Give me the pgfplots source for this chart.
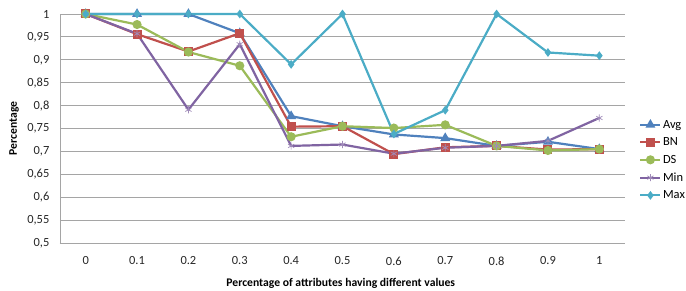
\documentclass[border=0pt]{standalone}
\usepackage{fontspec}
\setmainfont{Carlito}
\usepackage{pgfplots}
\pgfplotsset{compat=1.18}
\definecolor{cAvg}{HTML}{4F81BD}
\definecolor{cBN}{HTML}{C0504D}
\definecolor{cDS}{HTML}{9BBB59}
\definecolor{cMin}{HTML}{8064A2}
\definecolor{cMax}{HTML}{4BACC6}
\definecolor{gridc}{RGB}{165,165,165}
\begin{document}
\begin{tikzpicture}
\begin{axis}[
  name=ax,
  scale only axis,
  width=565bp, height=229bp,
  xmin=-0.5, xmax=10.5,
  ymin=0.5, ymax=1,
  xtick={0,1,2,3,4,5,6,7,8,9,10},
  xticklabels={0,0.1,0.2,0.3,0.4,0.5,0.6,0.7,0.8,0.9,1},
  ytick={0.5,0.55,0.6,0.65,0.7,0.75,0.8,0.85,0.9,0.95,1},
  /pgf/number format/assume math mode=true,
  /pgf/number format/use comma,
  /pgf/number format/precision=2,
  ymajorgrids,
  grid style={gridc, line width=0.8bp},
  axis x line=bottom, axis y line=left,
  axis line style={gridc, line width=0.8bp, -},
  tick style={draw=none},
  tick label style={font=\fontsize{12.5}{14}\selectfont, text=black!85},
  xticklabel style={yshift=-8bp},
  yticklabel style={xshift=-5bp},
  xlabel={\textbf{Percentage of attributes having different values}},
  ylabel={\textbf{Percentage}},
  label style={font=\fontsize{11.7}{13}\selectfont},
  xlabel style={at={(axis description cs:0.497,-0.175)}, anchor=center},
  ylabel style={at={(axis description cs:-0.0814,0.5)}, anchor=center, rotate=0},
  legend style={at={(rel axis cs:1.025,0.362)}, anchor=west, draw=none, fill=none,
    font=\fontsize{12.5}{14}\selectfont, row sep=4bp, inner sep=0pt,
    nodes={inner xsep=1.5bp}},
  legend cell align=left,
  clip=false,
]
\pgfplotsset{myleg/.style={legend image code/.code={\draw[mark repeat=2,mark phase=2,##1] plot coordinates {(0bp,0bp)(10bp,0bp)(20bp,0bp)};}}}
\addplot[cAvg, line width=2.2bp, mark=triangle*, mark size=3.6bp, mark options={solid}, myleg] coordinates {
(0,1) (1,1) (2,1) (3,0.958) (4,0.777) (5,0.755) (6,0.737) (7,0.729) (8,0.712) (9,0.721) (10,0.705)};
\addlegendentry{Avg}
\addplot[cBN, line width=2.2bp, mark=square*, mark size=3.4bp, myleg] coordinates {
(0,1) (1,0.956) (2,0.918) (3,0.958) (4,0.754) (5,0.755) (6,0.694) (7,0.709) (8,0.712) (9,0.704) (10,0.705)};
\addlegendentry{BN}
\addplot[cDS, line width=2.2bp, mark=*, mark size=3.4bp, myleg] coordinates {
(0,1) (1,0.977) (2,0.917) (3,0.887) (4,0.732) (5,0.755) (6,0.751) (7,0.758) (8,0.712) (9,0.702) (10,0.705)};
\addlegendentry{DS}
\addplot[cMin, line width=2.2bp, mark=asterisk, mark size=3.6bp, mark options={line width=0.7bp, draw=cMin!75}, myleg] coordinates {
(0,1) (1,0.957) (2,0.791) (3,0.934) (4,0.712) (5,0.715) (6,0.695) (7,0.708) (8,0.712) (9,0.723) (10,0.773)};
\addlegendentry{Min}
\addplot[cMax, line width=2.2bp, mark=diamond*, mark size=2.6bp, myleg] coordinates {
(0,1) (1,1) (2,1) (3,1) (4,0.89) (5,1) (6,0.738) (7,0.79) (8,1) (9,0.916) (10,0.909)};
\addlegendentry{Max}
\end{axis}
\pgfresetboundingbox
\path[use as bounding box] ([xshift=-60bp,yshift=-48bp]ax.south west) rectangle ([xshift=61bp,yshift=14bp]ax.north east);
\end{tikzpicture}
\end{document}
